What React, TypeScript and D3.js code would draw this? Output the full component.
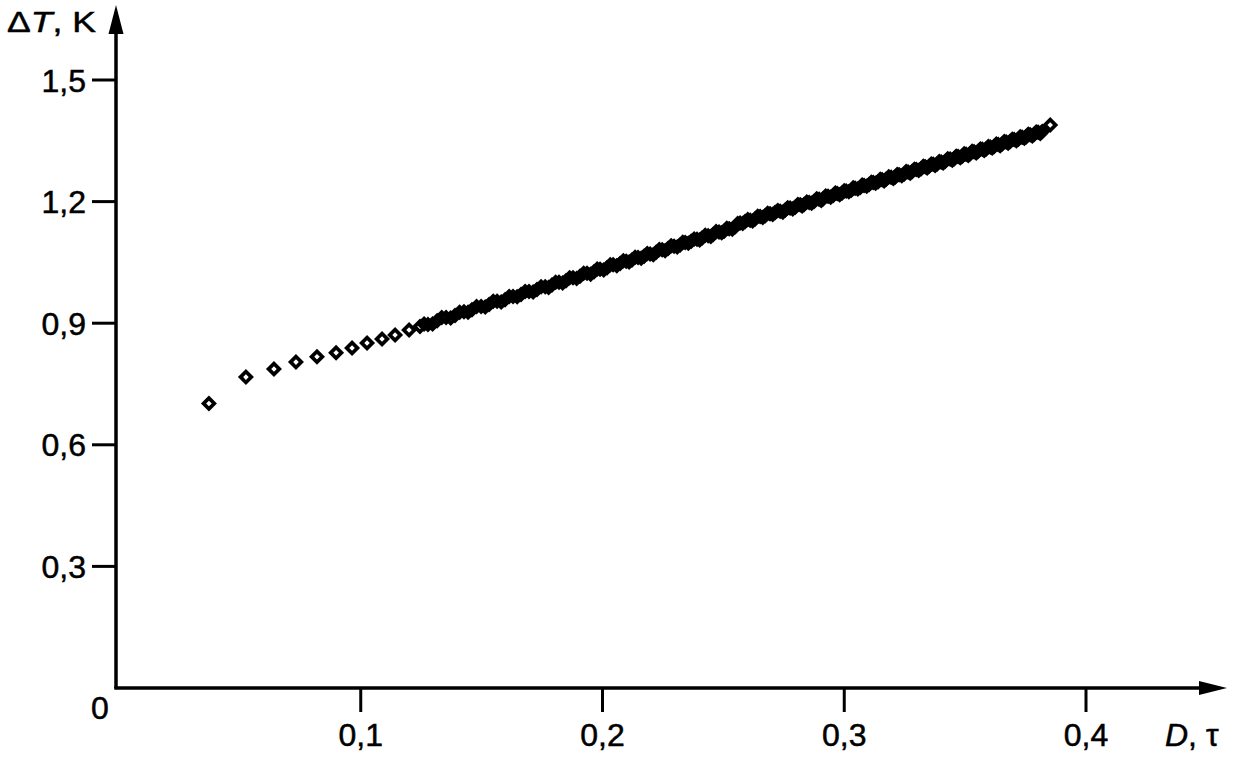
import React from "react";
import * as d3 from "d3";

// D, τ values (x) and ΔT, K values (y)
const D: number[] = [
  0.0372, 0.0525, 0.0641, 0.0732, 0.0819, 0.0898, 0.0964, 0.1026, 0.1088, 0.1142, 0.12,
  0.1245, 0.1278, 0.1316, 0.1353, 0.139, 0.1427, 0.146, 0.1498, 0.1531, 0.1564,
  0.1597, 0.163, 0.1663, 0.1696, 0.1729, 0.1763, 0.1791, 0.182, 0.1849, 0.1878,
  0.1907, 0.1936, 0.1965, 0.199, 0.2019, 0.2044, 0.2073, 0.2098, 0.2122, 0.2147,
  0.2172, 0.2197, 0.2222, 0.2247, 0.2271, 0.2296, 0.2321, 0.2342, 0.2367, 0.2391,
  0.2412, 0.2437, 0.2458, 0.2482, 0.2503, 0.2524, 0.2549, 0.2569, 0.259, 0.2611,
  0.2631, 0.2652, 0.2673, 0.2693, 0.2714, 0.2735, 0.2756, 0.2776, 0.2797, 0.2818,
  0.2834, 0.2855, 0.2875, 0.2896, 0.2913, 0.2933, 0.2954, 0.2971, 0.2991, 0.3008,
  0.3029, 0.3045, 0.3066, 0.3082, 0.3103, 0.312, 0.314, 0.3157, 0.3173, 0.3194,
  0.3211, 0.3227, 0.3248, 0.3264, 0.3281, 0.3298, 0.3318, 0.3335, 0.3351, 0.3368,
  0.3384, 0.3401, 0.3417, 0.3438, 0.3455, 0.3471, 0.3488, 0.3504, 0.3521, 0.3537,
  0.3554, 0.3571, 0.3587, 0.3604, 0.362, 0.3637, 0.3653, 0.367, 0.3686, 0.3703,
  0.372, 0.3736, 0.3753, 0.3769, 0.3786, 0.3802, 0.3819, 0.3852,
];

const dT: number[] = [
  0.702, 0.767, 0.787, 0.804, 0.817, 0.827, 0.839, 0.851, 0.861, 0.871, 0.883,
  0.892, 0.897, 0.906, 0.914, 0.919, 0.928, 0.933, 0.941, 0.946, 0.954,
  0.958, 0.966, 0.971, 0.978, 0.983, 0.99, 0.994, 1.001, 1.005, 1.012,
  1.016, 1.023, 1.027, 1.033, 1.037, 1.044, 1.047, 1.053, 1.056, 1.062,
  1.065, 1.071, 1.075, 1.081, 1.084, 1.09, 1.093, 1.099, 1.102, 1.107,
  1.11, 1.116, 1.119, 1.125, 1.127, 1.133, 1.138, 1.147, 1.151, 1.154,
  1.157, 1.163, 1.165, 1.17, 1.173, 1.176, 1.179, 1.184, 1.186, 1.192,
  1.193, 1.198, 1.2, 1.206, 1.207, 1.213, 1.215, 1.22, 1.221, 1.226,
  1.228, 1.233, 1.235, 1.24, 1.242, 1.247, 1.249, 1.254, 1.255, 1.26,
  1.261, 1.266, 1.268, 1.273, 1.274, 1.279, 1.281, 1.286, 1.287, 1.292,
  1.293, 1.298, 1.299, 1.305, 1.306, 1.311, 1.312, 1.317, 1.318, 1.323,
  1.324, 1.329, 1.33, 1.335, 1.336, 1.341, 1.342, 1.347, 1.348, 1.353,
  1.354, 1.359, 1.36, 1.365, 1.366, 1.371, 1.373, 1.389,
];

// further readings inside the dense band (its jagged upper / lower edges)
const D2: number[] = [
  0.1262, 0.1297, 0.1335, 0.1372, 0.1409, 0.1444, 0.1479, 0.1515, 0.1548, 0.1581,
  0.1614, 0.1647, 0.168, 0.1713, 0.1746, 0.1777, 0.1806, 0.1835, 0.1864, 0.1893,
  0.1922, 0.1951, 0.1978, 0.2005, 0.2032, 0.2059, 0.2086, 0.211, 0.2135, 0.216,
  0.2185, 0.221, 0.2235, 0.2259, 0.2284, 0.2309, 0.2332, 0.2355, 0.2379, 0.2402,
  0.2425, 0.2448, 0.247, 0.2493, 0.2514, 0.2537, 0.2559, 0.258, 0.2601, 0.2621,
  0.2642, 0.2663, 0.2683, 0.2704, 0.2725, 0.2746, 0.2766, 0.2787, 0.2808, 0.2826,
  0.2845, 0.2865, 0.2886, 0.2905, 0.2923, 0.2944, 0.2963, 0.2981, 0.3, 0.3019,
  0.3037, 0.3056, 0.3074, 0.3093, 0.3112, 0.313, 0.3149, 0.3165, 0.3184, 0.3203,
  0.3219, 0.3238, 0.3256, 0.3273, 0.329, 0.3308, 0.3327, 0.3343, 0.336, 0.3376,
  0.3393, 0.3409, 0.3428, 0.3447, 0.3463, 0.348, 0.3496, 0.3513, 0.3529, 0.3546,
  0.3563, 0.3579, 0.3596, 0.3612, 0.3629, 0.3645, 0.3662, 0.3678, 0.3695, 0.3712,
  0.3728, 0.3745, 0.3761, 0.3778, 0.3794, 0.3811,
];

const dT2: number[] = [
  0.898, 0.898, 0.914, 0.913, 0.927, 0.927, 0.941, 0.94, 0.954, 0.952,
  0.966, 0.965, 0.978, 0.977, 0.99, 0.988, 1.001, 0.999, 1.012, 1.01,
  1.023, 1.021, 1.034, 1.031, 1.044, 1.042, 1.054, 1.051, 1.063, 1.06,
  1.072, 1.069, 1.082, 1.079, 1.091, 1.088, 1.1, 1.097, 1.108, 1.105,
  1.117, 1.114, 1.126, 1.123, 1.134, 1.132, 1.146, 1.146, 1.156, 1.152,
  1.164, 1.161, 1.171, 1.168, 1.178, 1.174, 1.185, 1.182, 1.193, 1.189,
  1.199, 1.196, 1.207, 1.203, 1.214, 1.211, 1.221, 1.217, 1.227, 1.224,
  1.234, 1.231, 1.241, 1.238, 1.248, 1.245, 1.255, 1.251, 1.261, 1.257,
  1.267, 1.264, 1.274, 1.27, 1.28, 1.277, 1.287, 1.283, 1.293, 1.289,
  1.299, 1.295, 1.306, 1.302, 1.312, 1.308, 1.318, 1.314, 1.324, 1.32,
  1.33, 1.326, 1.336, 1.332, 1.342, 1.338, 1.348, 1.344, 1.354, 1.35,
  1.36, 1.356, 1.366, 1.362, 1.372, 1.368,
];

const xTicks: number[] = [0.1, 0.2, 0.3, 0.4];
const yTicks: number[] = [0.3, 0.6, 0.9, 1.2, 1.5];

const fmt = (v: number) => d3.format(".1f")(v).replace(".", ",");

export default function App() {
  const W = 1237;
  const H = 758;
  const x = d3.scaleLinear().domain([0, 0.4]).range([119, 1086]);
  const y = d3.scaleLinear().domain([0, 1.5]).range([688, 80]);
  const ox = 116;
  const oy = 688;
  const font = "'Liberation Sans', Arial, sans-serif";
  const sym = d3.symbol().type(d3.symbolSquare).size(58)() as string;

  const pts = [
    ...D.map((d, i) => [d, dT[i]] as [number, number]),
    ...D2.map((d, i) => [d, dT2[i]] as [number, number]),
  ];

  const txt = { stroke: "#000", strokeWidth: 0.5 };

  return (
    <svg
      width={W}
      height={H}
      style={{ position: "absolute", left: 0, top: 0, background: "#fff" }}
      fontFamily={font}
    >
      <rect width={W} height={H} fill="#fff" />
      {/* axes */}
      <line x1={ox} y1={oy} x2={ox} y2={30} stroke="#000" strokeWidth={3.5} />
      <line x1={ox - 1.75} y1={oy} x2={1202} y2={oy} stroke="#000" strokeWidth={3.5} />
      <path d={`M${ox},5 L${ox + 7.5},34 L${ox - 7.5},34 Z`} fill="#000" />
      <path d={`M1227,${oy} L1199,${oy - 7} L1199,${oy + 7} Z`} fill="#000" />

      {/* y ticks */}
      {yTicks.map((t) => (
        <g key={"y" + t}>
          <line x1={92} x2={ox} y1={y(t)} y2={y(t)} stroke="#000" strokeWidth={3} />
          <text x={86} y={y(t) + 11.5} textAnchor="end" fontSize={32} {...txt}>
            {fmt(t)}
          </text>
        </g>
      ))}

      {/* x ticks */}
      {xTicks.map((t) => (
        <g key={"x" + t}>
          <line x1={x(t)} x2={x(t)} y1={oy} y2={712} stroke="#000" strokeWidth={3} />
          <text x={x(t)} y={746} textAnchor="middle" fontSize={32} {...txt}>
            {fmt(t)}
          </text>
        </g>
      ))}

      <text x={100} y={719} textAnchor="middle" fontSize={32} {...txt}>
        0
      </text>

      {/* axis titles */}
      <text x={7} y={32} fontSize={29} textLength={89} lengthAdjust="spacingAndGlyphs" {...txt}>
        Δ<tspan fontStyle="italic">T</tspan>, K
      </text>
      <text x={1165} y={746} fontSize={32} {...txt}>
        <tspan fontStyle="italic">D</tspan>, τ
      </text>

      {/* data points */}
      <g fill="none" stroke="#000" strokeWidth={3.7}>
        {pts.map((p, i) => (
          <path
            key={i}
            d={sym}
            transform={`translate(${x(p[0])},${y(p[1])}) rotate(45)`}
          />
        ))}
      </g>
    </svg>
  );
}
